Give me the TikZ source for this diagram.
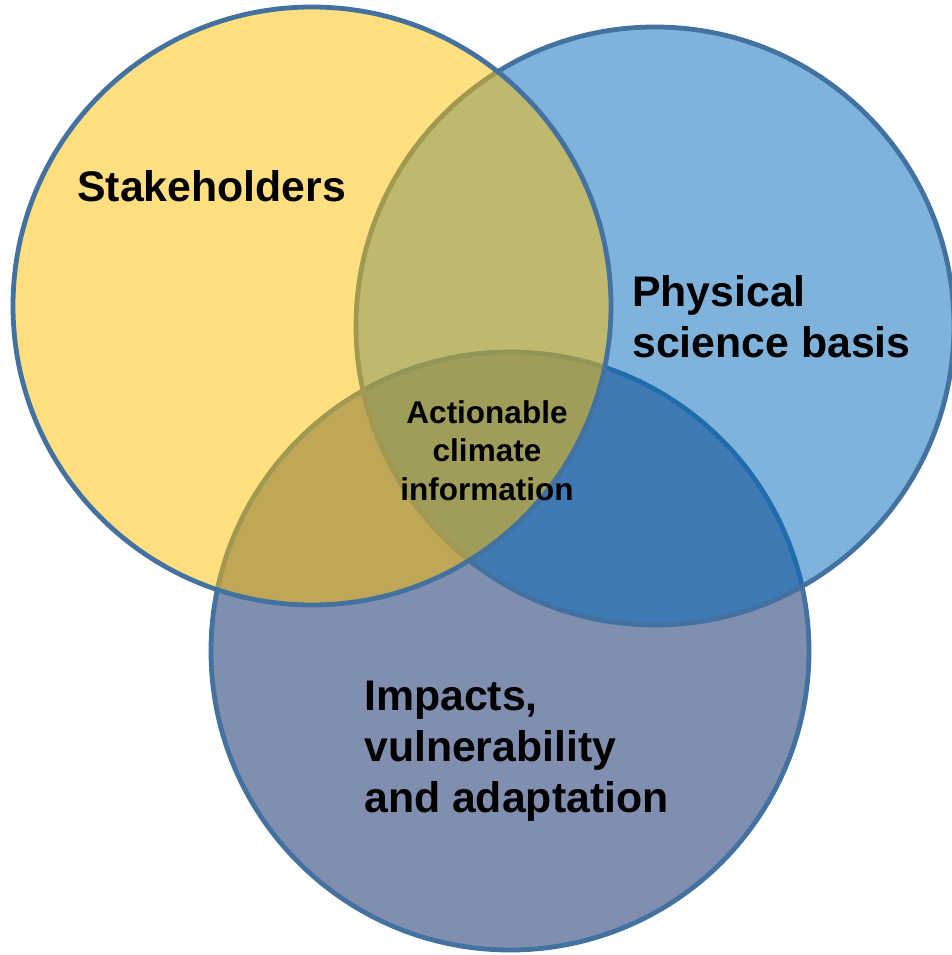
\documentclass[tikz,border=0pt]{standalone}
\usepackage{fontspec}
\setmainfont{Liberation Sans}
\definecolor{ylw}{RGB}{255,192,0}
\definecolor{blu}{RGB}{0,104,184}
\definecolor{slate}{RGB}{128,142,176}
\definecolor{edgeblue}{RGB}{68,114,160}
\begin{document}
\begin{tikzpicture}[x=1pt,y=-1pt,
  venn/.style={circle, minimum size=598pt, inner sep=0pt, draw=edgeblue, line width=4.8pt},
  lbl/.style={font=\bfseries\fontsize{42.8}{51}\selectfont, align=left, inner sep=0pt, anchor=north west, text=black},
  small/.style={font=\bfseries\fontsize{31.5}{38.5}\selectfont, align=center, inner sep=0pt, anchor=north, text=black}]
\path[use as bounding box] (0,0) rectangle (952,955);
\fill[white] (0,0) rectangle (952,955);
\node[venn, fill=slate] (impc) at (510,651) {};
\node[venn, fill=blu, fill opacity=0.5] (phyc) at (655,326) {};
\node[venn, fill=ylw, fill opacity=0.5] (stkc) at (312,306) {};
\node[lbl] (stk) at (77,170) {Stakeholders};
\node[lbl] (phy) at (632,275) {Physical\\science basis};
\node[lbl] (imp) at (364,681) {Impacts,\\vulnerability\\and adaptation};
\node[small] (act) at (487,400) {Actionable\\climate\\information};
\end{tikzpicture}
\end{document}
